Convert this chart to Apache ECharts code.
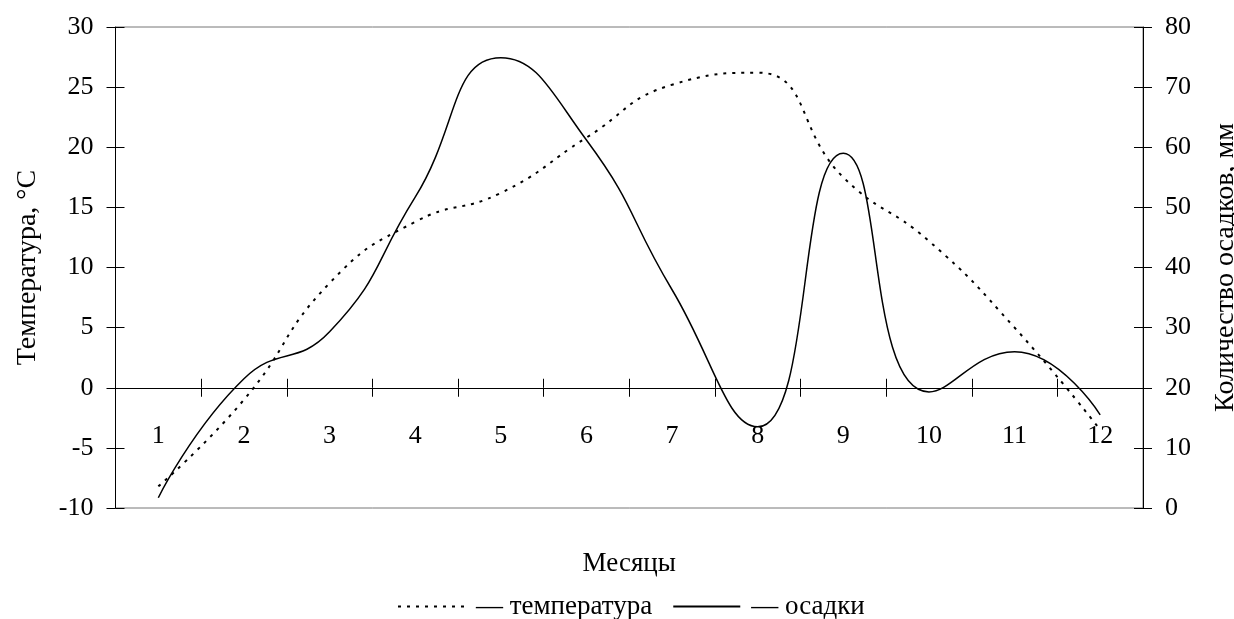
<!DOCTYPE html>
<html>
	<head>
		<meta charset="utf-8">
		<title></title>
		<script src="https://cdn.jsdelivr.net/npm/echarts@6/dist/echarts.min.js"></script>
		<style>
			body{margin:0;background:#fff;}
			.chart{width:1234px;height:619px;}
		</style>
	</head>
	<body>
		<div class="chart"></div>
		<script>
			// данные по месяцам
			var months = ['1','2','3','4','5','6','7','8','9','10','11','12'];
			var temperature = [-8.2, -1.0, 8.7, 13.8, 16.2, 20.8, 25.2, 26.2, 17.5, 12.2, 5.0, -3.5];
			var precipitation = [1.7, 21.5, 29.3, 51.7, 74.9, 61.2, 36.3, 13.5, 59.0, 19.3, 26.0, 15.5];
			var tempTicks = {min: -10, max: 30, interval: 5};
			var rainTicks = {min: 0, max: 80, interval: 10};

			var font = 'Liberation Serif';
			var chart = echarts.init(document.querySelector('.chart'));

			// ось месяцев стоит на нуле температуры: сдвиг от низа сетки
			var gridTop = 27, gridH = 481;
			var zeroShift = -gridH * (0 - tempTicks.min) / (tempTicks.max - tempTicks.min);

			var yBase = function(t, pos){
				return {
					type: 'value',
					position: pos,
					min: t.min, max: t.max, interval: t.interval,
					splitLine: {show: false},
					axisLine: {show: true, lineStyle: {color: '#000', width: 1}},
					axisTick: {show: true, length: 9, lineStyle: {color: '#000'}},
					axisLabel: {color: '#000', fontFamily: font, fontSize: 26, margin: 22}
				};
			};
			var yInner = function(t, pos){
				return {
					type: 'value',
					position: pos,
					min: t.min, max: t.max, interval: t.interval,
					splitLine: {show: false},
					axisLine: {show: false},
					axisTick: {show: true, inside: true, length: 9, lineStyle: {color: '#000'}},
					axisLabel: {show: false}
				};
			};

			var left = yBase(tempTicks, 'left');
			left.name = 'Температура, °С';
			left.nameLocation = 'middle';
			left.nameRotate = 90;
			left.nameGap = 74;
			left.nameTextStyle = {color: '#000', fontFamily: font, fontSize: 28};

			var right = yBase(rainTicks, 'right');
			right.name = 'Количество осадков, мм';
			right.nameLocation = 'middle';
			right.nameRotate = 90;
			right.nameGap = 69;
			right.nameTextStyle = {color: '#000', fontFamily: font, fontSize: 28};

			chart.setOption({
				animation: false,
				backgroundColor: '#fff',
				grid: {
					left: 115.5, right: 91, top: gridTop, height: gridH,
					containLabel: false,
					outerBoundsMode: 'none',
					show: true, borderColor: '#777', borderWidth: 1
				},
				legend: {
					top: 588,
					left: 392,
					itemWidth: 67,
					itemHeight: 14,
					itemGap: 20,
					itemStyle: {opacity: 0, borderWidth: 0},
					textStyle: {color: '#000', fontFamily: font, fontSize: 27, padding: [0, 0, 0, 6]},
					data: ['— температура', '— осадки']
				},
				xAxis: [
					{
						type: 'category',
						data: months,
						position: 'bottom',
						offset: zeroShift,
						name: 'Месяцы',
						nameLocation: 'middle',
						nameGap: 163,
						nameTextStyle: {color: '#000', fontFamily: font, fontSize: 27},
						axisLine: {onZero: false, lineStyle: {color: '#000', width: 1}},
						axisTick: {show: true, length: 9, lineStyle: {color: '#000'}},
						axisLabel: {color: '#000', fontFamily: font, fontSize: 26, margin: 35},
						splitLine: {show: false}
					},
					{
						type: 'category',
						data: months,
						position: 'bottom',
						offset: zeroShift,
						axisLine: {show: false, onZero: false},
						axisTick: {show: true, inside: true, length: 9, lineStyle: {color: '#000'}},
						axisLabel: {show: false},
						splitLine: {show: false}
					}
				],
				yAxis: [left, right, yInner(tempTicks, 'left'), yInner(rainTicks, 'right')],
				series: [
					{
						name: '— температура',
						type: 'line',
						xAxisIndex: 0,
						yAxisIndex: 0,
						data: temperature,
						smooth: 0.5,
						symbol: 'none',
						lineStyle: {color: '#000', width: 2, type: [3, 6]},
						itemStyle: {color: '#000'}
					},
					{
						name: '— осадки',
						type: 'line',
						xAxisIndex: 0,
						yAxisIndex: 1,
						data: precipitation,
						smooth: 0.5,
						symbol: 'none',
						lineStyle: {color: '#000', width: 1.5},
						itemStyle: {color: '#000'}
					}
				]
			});
		</script>
	</body>
</html>
